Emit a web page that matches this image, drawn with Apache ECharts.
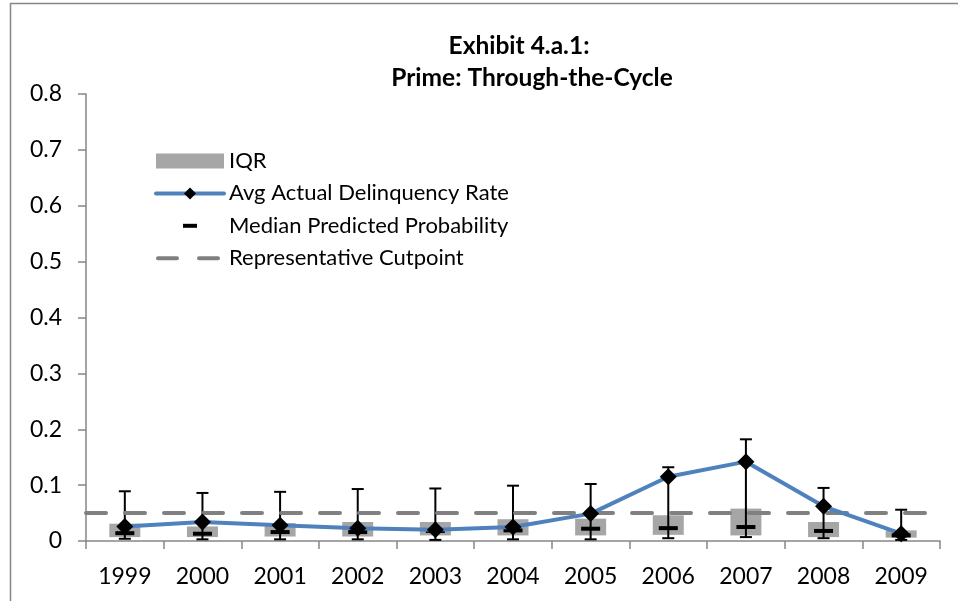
<!DOCTYPE html>
<html>
<head>
<meta charset="utf-8">
<script src="https://cdn.jsdelivr.net/npm/echarts@6/dist/echarts.min.js"></script>
<style>
  html, body { margin: 0; padding: 0; background: #fff; }
  #chart { width: 958px; height: 601px; }
</style>
</head>
<body>
<div id="chart"></div>
<script>
const years = ['1999', '2000', '2001', '2002', '2003', '2004', '2005', '2006', '2007', '2008', '2009'];
const whiskerLow = [0.004, 0.003, 0.003, 0.003, 0.002, 0.003, 0.003, 0.005, 0.007, 0.005, 0.002];
const whiskerHigh = [0.089, 0.086, 0.088, 0.093, 0.094, 0.099, 0.102, 0.132, 0.182, 0.095, 0.056];
const q1 = [0.007, 0.007, 0.008, 0.008, 0.010, 0.010, 0.010, 0.011, 0.010, 0.007, 0.006];
const q3 = [0.031, 0.026, 0.032, 0.034, 0.034, 0.039, 0.040, 0.046, 0.058, 0.034, 0.019];
const medianPred = [0.014, 0.013, 0.016, 0.016, 0.018, 0.019, 0.022, 0.023, 0.025, 0.018, 0.010];
const avgActual = [0.026, 0.034, 0.028, 0.023, 0.020, 0.025, 0.049, 0.115, 0.142, 0.062, 0.013];
const cutpoint = 0.05;
const yTicks = [0, 0.1, 0.2, 0.3, 0.4, 0.5, 0.6, 0.7, 0.8];

const FONT = 'Lato';
const AXIS_GRAY = '#868686';

const chart = echarts.init(document.getElementById('chart'));

const iqrHeight = q3.map((v, i) => +(v - q1[i]).toFixed(4));
const whiskerData = years.map((y, i) => [i, whiskerLow[i], whiskerHigh[i]]);

// vertical whisker with a cap on each end
function renderWhisker(params, api) {
  const top = api.coord([api.value(0), api.value(2)]);
  const bot = api.coord([api.value(0), api.value(1)]);
  const cap = 6;
  const style = { stroke: '#000', lineWidth: 2 };
  return {
    type: 'group',
    children: [
      { type: 'line', shape: { x1: top[0], y1: top[1], x2: bot[0], y2: bot[1] }, style },
      { type: 'line', shape: { x1: top[0] - cap, y1: top[1], x2: top[0] + cap, y2: top[1] }, style },
      { type: 'line', shape: { x1: bot[0] - cap, y1: bot[1], x2: bot[0] + cap, y2: bot[1] }, style }
    ]
  };
}

const titleFont = { fontFamily: FONT, fontWeight: 'bold', fontSize: 24.5, lineHeight: 32, color: '#000' };

const option = {
  animation: false,
  textStyle: { fontFamily: FONT },
  title: [
    { text: 'Exhibit 4.a.1:', left: 519, top: 30, padding: 0, textAlign: 'center', textStyle: titleFont },
    { text: 'Prime: Through-the-Cycle', left: 532, top: 62, padding: 0, textAlign: 'center', textStyle: titleFont }
  ],
  graphic: [
    {
      type: 'rect',
      silent: true,
      shape: { x: 10.5, y: 3.5, width: 1000, height: 700 },
      style: { fill: 'none', stroke: AXIS_GRAY, lineWidth: 1.5 }
    }
  ],
  legend: {
    orient: 'vertical',
    left: 154,
    top: 150,
    padding: 0,
    itemWidth: 68,
    itemHeight: 15,
    itemGap: 10.4,
    textStyle: { fontFamily: FONT, fontSize: 22, color: '#000' },
    data: [
      { name: 'IQR', icon: 'rect' },
      { name: 'Avg Actual Delinquency Rate', lineStyle: { width: 4, cap: 'round' } },
      {
        name: 'Median Predicted Probability',
        icon: 'path://M0,0M68,14M27,5h14v4h-14z',
        itemStyle: { color: '#000', opacity: 1 }
      },
      {
        name: 'Representative Cutpoint',
        icon: 'path://M0,0M68,14M2,5h19a2,2,0,0,1,0,4h-19a2,2,0,0,1,0,-4zM43,5h19a2,2,0,0,1,0,4h-19a2,2,0,0,1,0,-4z'
      }
    ]
  },
  grid: { left: 86, right: 18, top: 94, bottom: 60 },
  xAxis: {
    type: 'category',
    data: years,
    boundaryGap: true,
    axisLine: { lineStyle: { color: AXIS_GRAY, width: 1.5 } },
    axisTick: { show: true, length: 8, lineStyle: { color: AXIS_GRAY, width: 1.5 } },
    axisLabel: { color: '#000', fontSize: 23, fontFamily: FONT, margin: 24 },
    splitLine: { show: false }
  },
  yAxis: {
    type: 'value',
    min: yTicks[0],
    max: yTicks[yTicks.length - 1],
    interval: 0.1,
    axisLine: { show: true, lineStyle: { color: AXIS_GRAY, width: 1.5 } },
    axisTick: { show: true, length: 8, lineStyle: { color: AXIS_GRAY, width: 1.5 } },
    axisLabel: { color: '#000', fontSize: 23, fontFamily: FONT, margin: 24 },
    splitLine: { show: false }
  },
  series: [
    {
      name: 'base',
      type: 'bar',
      stack: 'iqr',
      barWidth: 31,
      data: q1,
      itemStyle: { color: 'transparent' },
      silent: true,
      z: 2
    },
    {
      name: 'IQR',
      type: 'bar',
      stack: 'iqr',
      barWidth: 31,
      data: iqrHeight,
      itemStyle: { color: '#a6a6a6' },
      z: 2
    },
    {
      name: 'Representative Cutpoint',
      type: 'line',
      data: [],
      symbol: 'none',
      lineStyle: { color: '#808080', width: 4, type: [20, 18], cap: 'round' },
      itemStyle: { color: '#808080' },
      markLine: {
        silent: true,
        symbol: 'none',
        label: { show: false },
        lineStyle: { color: '#808080', width: 4, type: [20, 19], cap: 'round' },
        data: [{ yAxis: cutpoint }]
      },
      z: 3
    },
    {
      name: 'whisker',
      type: 'custom',
      renderItem: renderWhisker,
      encode: { x: 0, y: [1, 2] },
      data: whiskerData,
      z: 4
    },
    {
      name: 'Median Predicted Probability',
      type: 'scatter',
      symbol: 'rect',
      symbolSize: [19, 4],
      data: medianPred,
      itemStyle: { color: '#000', opacity: 1 },
      z: 5
    },
    {
      name: 'Avg Actual Delinquency Rate',
      type: 'line',
      data: avgActual,
      symbol: 'diamond',
      symbolSize: 17,
      showAllSymbol: true,
      lineStyle: { color: '#4f81bd', width: 4 },
      itemStyle: { color: '#000' },
      z: 6
    }
  ]
};

chart.setOption(option);
</script>
</body>
</html>
